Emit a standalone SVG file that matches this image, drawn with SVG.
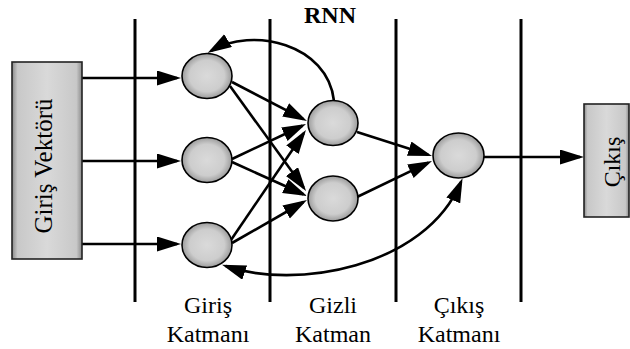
<svg xmlns="http://www.w3.org/2000/svg" width="630" height="349" viewBox="0 0 630 349">
<style>
.t{font-family:'Liberation Serif','Times New Roman','DejaVu Serif',serif;font-size:24px;fill:#000;text-anchor:middle}
.sep{stroke:#000;stroke-width:3;fill:none}
.c{stroke:#000;stroke-width:2.6;fill:none;marker-end:url(#ah)}
.n{fill:url(#ng);stroke:#000;stroke-width:1.6}
.box{fill:url(#bg);stroke:#222;stroke-width:1.6}
</style>
<defs>
<radialGradient id="ng" cx="50%" cy="50%" r="50%">
<stop offset="0" stop-color="#dadada"/>
<stop offset="0.7" stop-color="#cdcdcd"/>
<stop offset="1" stop-color="#9c9c9c"/>
</radialGradient>
<linearGradient id="bg" x1="0" y1="0" x2="1" y2="0">
<stop offset="0" stop-color="#8a8a8a"/>
<stop offset="0.08" stop-color="#c8c8c8"/>
<stop offset="0.5" stop-color="#d9d9d9"/>
<stop offset="0.92" stop-color="#c8c8c8"/>
<stop offset="1" stop-color="#8a8a8a"/>
</linearGradient>
<marker id="ah" markerUnits="userSpaceOnUse" markerWidth="26" markerHeight="16" refX="20" refY="7.5" orient="auto-start-reverse">
<path d="M0,0 L24,7.5 L0,15 z" fill="#000"/>
</marker>
</defs>

<g id="separators">
<line class="sep" x1="135" y1="19" x2="135" y2="302"/>
<line class="sep" x1="270" y1="19" x2="270" y2="302"/>
<line class="sep" x1="396" y1="19" x2="396" y2="302"/>
<line class="sep" x1="521" y1="19" x2="521" y2="302"/>
</g>

<g id="connectors">
<line class="c" x1="82" y1="78" x2="177" y2="78"/>
<line class="c" x1="82" y1="161" x2="177" y2="161"/>
<line class="c" x1="82" y1="244" x2="177" y2="244"/>
<line class="c" x1="232" y1="82" x2="303.4" y2="119.2"/>
<line class="c" x1="230" y1="86" x2="303.7" y2="187.8"/>
<line class="c" x1="232" y1="159" x2="302.4" y2="125.7"/>
<line class="c" x1="232" y1="162" x2="303.4" y2="194.3"/>
<line class="c" x1="231" y1="240" x2="303.7" y2="133.3"/>
<line class="c" x1="232" y1="243" x2="303.5" y2="202"/>
<line class="c" x1="357" y1="132" x2="428.2" y2="154.8"/>
<line class="c" x1="357" y1="197" x2="428.4" y2="162.7"/>
<line class="c" x1="484" y1="157" x2="580" y2="157"/>
<path class="c" d="M334,101 C328,44 252,26 211,51"/>
<path class="c" style="marker-start:url(#ah)" d="M225.8,266.1 C295,290 425,268 461,182"/>
</g>

<g id="input-vector">
<rect class="box" x="12" y="62" width="70" height="197"/>
<text class="t" font-family="Liberation Serif, serif" style="font-size:25px" transform="translate(52,166) rotate(-90)">Giriş Vektörü</text>
</g>
<g id="output">
<rect class="box" x="584" y="104" width="45" height="113"/>
<text class="t" font-family="Liberation Serif, serif" transform="translate(620,162) rotate(-90)">Çıkış</text>
</g>

<g id="in1"><ellipse class="n" cx="207" cy="76" rx="25" ry="22.5"/></g>
<g id="in2"><ellipse class="n" cx="207" cy="160" rx="25" ry="22.5"/></g>
<g id="in3"><ellipse class="n" cx="207" cy="245" rx="25" ry="22.5"/></g>
<g id="h1"><ellipse class="n" cx="333" cy="123" rx="25" ry="22.5"/></g>
<g id="h2"><ellipse class="n" cx="333" cy="198.5" rx="25" ry="22.5"/></g>
<g id="out"><ellipse class="n" cx="458.5" cy="155.5" rx="25.5" ry="22.5"/></g>

<g id="labels" font-family="Liberation Serif, serif">
<text class="t" style="font-weight:bold" x="330" y="23">RNN</text>
<text class="t" x="208" y="313">Giriş</text>
<text class="t" x="208" y="342">Katmanı</text>
<text class="t" x="333" y="313">Gizli</text>
<text class="t" x="333" y="342">Katman</text>
<text class="t" x="459" y="313">Çıkış</text>
<text class="t" x="459" y="342">Katmanı</text>
</g>
</svg>
